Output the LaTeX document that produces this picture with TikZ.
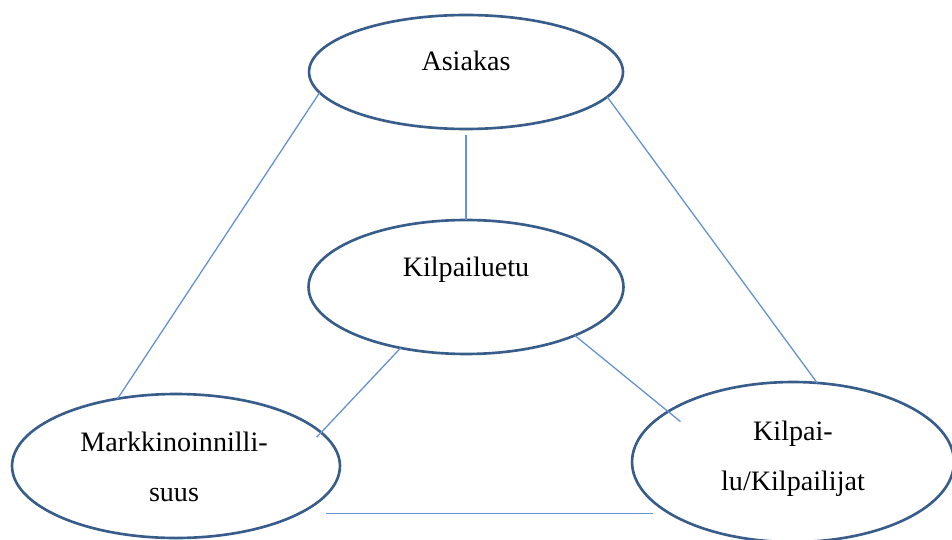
\documentclass[tikz,border=0pt]{standalone}
\usepackage{fontspec}
\setmainfont{Liberation Serif}
\usetikzlibrary{shapes.geometric}
\definecolor{ovalblue}{RGB}{56,93,138}
\definecolor{linkblue}{RGB}{104,148,204}
\tikzstyle{oval}=[ellipse, draw=ovalblue, line width=1.5pt, inner sep=0pt, outer sep=0pt]
\tikzstyle{link}=[draw=linkblue, line width=0.75pt]
\tikzset{every label/.style={font=\fontsize{16}{28.5}\selectfont, align=center}}

\begin{document}
\begin{tikzpicture}[x=0.02cm, y=-0.02cm]
  \useasboundingbox (0,0) rectangle (952,540);
  \node[oval, minimum width=6.28cm, minimum height=2.28cm,
        label={[yshift=0.22cm]center:Asiakas}] (asiakas) at (466,72) {};
  \node[oval, minimum width=6.30cm, minimum height=2.68cm,
        label={[yshift=0.35cm]center:Kilpailuetu}] (kilpailuetu) at (466,287) {};
  \node[oval, minimum width=6.56cm, minimum height=2.88cm,
        label={[xshift=-0.04cm, yshift=-0.02cm]center:Markkinoinnilli-\\suus}] (markk) at (176,466) {};
  \node[oval, minimum width=6.44cm, minimum height=3.20cm,
        label={[yshift=0.06cm]center:Kilpai-\\lu/Kilpailijat}] (kilpailu) at (793,462) {};
  \draw[link] (asiakas.188) -- (markk.131);
  \draw[link] (asiakas.-10) -- (kilpailu.73);
  \draw[link, shorten <=0.12cm] (asiakas.south) -- (kilpailuetu.north);
  \draw[link, shorten >=-0.13cm] (kilpailuetu.223) -- (markk.13);
  \draw[link, shorten >=-0.32cm] (kilpailuetu.-24) -- (kilpailu.158);
  \draw[link, shorten <=0.54cm, shorten >=0.3cm] (markk.-21) -- (markk.-21 -| kilpailu.202);
\end{tikzpicture}
\end{document}
